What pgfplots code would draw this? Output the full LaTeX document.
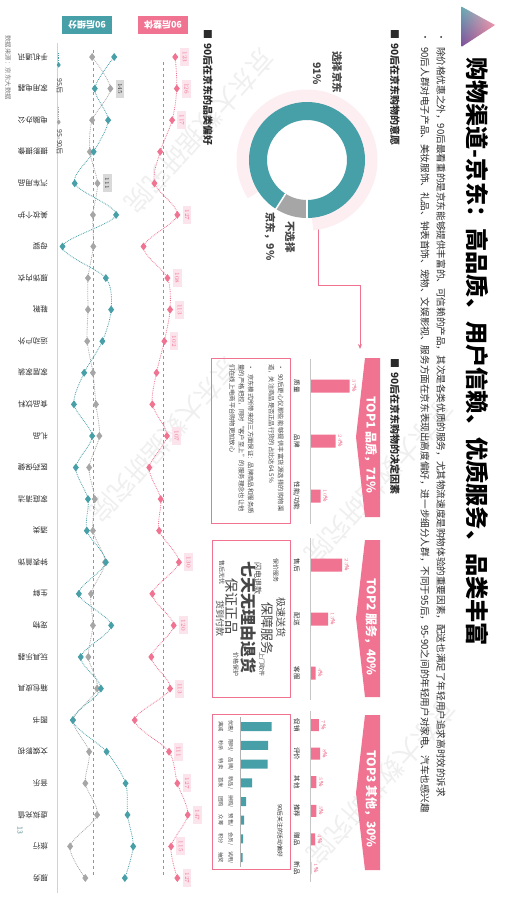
\documentclass[border=0pt]{standalone}
\usepackage{pgfplots}
\pgfplotsset{compat=1.18}
\usepackage{pgfplotstable}
\usepackage{fontspec}
\setmainfont{Noto Sans CJK SC}
\usetikzlibrary{arrows.meta,shadings}
\XeTeXlinebreaklocale "zh"
\XeTeXlinebreakskip=0pt plus 1pt minus 0.1pt
\definecolor{jteal}{HTML}{479FA8}
\definecolor{jpink}{HTML}{F07391}
\definecolor{jpale}{HTML}{FDEEF2}
\definecolor{jlab}{HTML}{FCE4EC}
\definecolor{jgray}{HTML}{A6A6A6}
\definecolor{jdark}{HTML}{2B2B2B}
\definecolor{jtext}{HTML}{474747}
\definecolor{jpurple}{HTML}{7E4E9B}
\newcommand\F[1]{\fontsize{#1}{#1}\selectfont}
\newcommand\catname[1]{\ifcase#1 手机通讯\or 家用电器\or 电脑办公\or 摄影摄像\or 汽车用品\or 美妆个护\or 母婴\or 服饰内衣\or 鞋靴\or 运动户外\or 家居家装\or 食品饮料\or 礼品\or 医药保健\or 家庭清洁\or 酒类\or 钟表首饰\or 生鲜\or 宠物\or 玩具乐器\or 箱包皮具\or 图书\or 文娱影视\or 音乐\or 虚拟充值\or 旅行\or 服务\fi}
\newcommand\actname[1]{\ifcase#1 优惠/\\满减\or 限时/\\秒杀\or 品牌/\\特卖\or 新品/\\首发\or 拼购/\\团购\or 预售/\\众筹\or 会员/\\积分\or 试用/\\抽奖\fi}
\tikzset{catlab/.style={rotate=-90, anchor=north, font=\F{6.5}, text=jdark, inner sep=0pt}}

\pgfplotstableread{
idx pink teal gray
0 123 155 97
1 126 104 145
2 117 139 97
3 94 101 91
4 83 51 111
5 127 160 99
6 62 19 100
7 108 133 86
8 113 147 86
9 102 124 84
10 87 76 99
11 79 49 107
12 107 97 116
13 73 54 89
14 95 86 104
15 92 83 99
16 130 133 131
17 79 62 94
18 120 147 99
19 77 67 87
20 113 120 110
21 45 46 47
22 111 135 89
23 127 185 79
24 147 190 110
25 115 205 39
26 127 183 79
}\prefdata

\pgfplotstableread{
idx pink
0 123
1 126
2 117
5 127
7 108
8 113
9 102
12 107
16 130
18 120
20 113
22 111
23 127
24 147
25 115
26 127
}\pinklab

\begin{document}
\begin{tikzpicture}
\begin{scope}[x=1pt,y=-1pt]
\fill[white] (0,0) rectangle (506,899);
\useasboundingbox (0,0) rectangle (506,899);

% watermarks
\foreach \cx/\cy in {200/131,380/482,165/440,382/782}
  \node[rotate=-131.6, text=gray, opacity=0.12, font=\F{26}] at (\cx,\cy) {京东大数据研究院};

% logo
\begin{scope}
\clip (461.7,6.7) -- (461.7,46.7) -- (495,25) -- cycle;
\shade[upper left=jteal!85, upper right=jpink!60, lower left=jpurple, lower right=jpink] (461,6) rectangle (496,47);
\end{scope}

% title and summary
\node[rotate=-90, anchor=west, inner sep=0pt, font=\F{23.2}\bfseries, text=black] at (477,57) {购物渠道-京东：高品质、用户信赖、优质服务、品类丰富};
\fill[jdark] (441,37) circle (1pt);
\fill[jdark] (425,37) circle (1pt);
\node[rotate=-90, anchor=west, inner sep=0pt, font=\F{9.6}, text=jdark] at (441,47) {除价格优惠之外，90后最看重的是京东能够提供丰富的、可信赖的产品，其次是各类优质的服务，尤其物流速度是购物体验的重要因素，配送也满足了年轻用户追求高时效的诉求};
\node[rotate=-90, anchor=west, inner sep=0pt, font=\F{9.6}, text=jdark] at (425,47) {90后人群对电子产品、美妆服饰、礼品、钟表首饰、宠物、文娱影视、服务方面在京东表现出高度偏好，进一步细分人群，不同于95后，95-90之间的年轻用户对家电、汽车也感兴趣};

% section headers
\node[rotate=-90, anchor=west, inner sep=0pt, font=\F{10}\bfseries, text=jdark] at (395,29) {■\hspace{4pt}90后在京东购物的意愿};
\node[rotate=-90, anchor=west, inner sep=0pt, font=\F{10}\bfseries, text=jdark] at (208,29) {■\hspace{4pt}90后在京东的品类偏好};
\node[rotate=-90, anchor=west, inner sep=0pt, font=\F{10}\bfseries, text=jdark] at (395,358) {■\hspace{4pt}90后在京东购物的决定因素};

\node[rotate=-90, anchor=west, inner sep=0pt, font=\F{10.5}\bfseries, text=jtext] at (337,51) {选择京东};
\node[rotate=-90, anchor=west, inner sep=0pt, font=\F{10.5}\bfseries, text=jtext] at (317,62) {91\%};
\node[rotate=-90, anchor=west, inner sep=0pt, font=\F{10.5}\bfseries, text=jtext] at (290,221) {不选择};
\node[rotate=-90, anchor=west, inner sep=0pt, font=\F{10.5}\bfseries, text=jtext] at (270,212) {京东，9\%};
\draw[jpink, line width=0.8pt, -{Stealth[length=5pt,width=4pt]}] (318,226) -- (318,285) -- (360,285) -- (360,349);

% banners
\fill[jpink] (365,358) -- (380,358) -- (380,517) -- (365,517) -- (356,437) -- cycle;
\fill[jpink] (365,540) -- (380,540) -- (380,697) -- (365,697) -- (356,618) -- cycle;
\fill[jpink] (365,715) -- (380,715) -- (380,870) -- (365,870) -- (356,793) -- cycle;
\node[rotate=-90, font=\F{12}\bfseries, text=white] at (371,445) {TOP1 品质，71\%};
\node[rotate=-90, font=\F{12}\bfseries, text=white] at (371,627) {TOP2 服务，40\%};
\node[rotate=-90, font=\F{12}\bfseries, text=white] at (371,799) {TOP3 其他，30\%};

% boxes
\draw[jpink, line width=0.8pt] (211.5,358.5) rectangle (290,523);
\draw[jpink, line width=0.8pt] (212,540) rectangle (290,697);
\draw[jpink, line width=0.8pt] (212.5,714) rectangle (290,869);

% box 1 text
\node[rotate=-90, anchor=north west, text width=150pt, inner sep=0pt, align=left, font=\fontsize{6.3}{9.3}\selectfont, text=jtext] at (284,364)
 {\hangindent=10pt\hangafter=1\noindent\makebox[10pt][l]{•}90后更心仪那些能够提供丰富货源选择的购物渠道，关注商品是否正品行货的占比达64.5\%};
\node[rotate=-90, anchor=north west, text width=150pt, inner sep=0pt, align=left, font=\fontsize{6.3}{9.3}\selectfont, text=jtext] at (254,364)
 {\hangindent=10pt\hangafter=1\noindent\makebox[10pt][l]{•}京东模式所带来的三方面保证：品牌商品和服务质量的严格把控，同时“客户至上”的服务理念也让他们在线上电商平台购物更加放心};

% box 2 word cloud
\node[rotate=-90, font=\F{10}, text=jtext] at (281,617) {极速送货};
\node[rotate=-90, font=\F{13}, text=jtext] at (267,628) {保障服务};
\node[rotate=-90, font=\F{8}, text=jtext] at (258,578) {闪电退款};
\node[rotate=-90, font=\F{16}\bfseries, text=jtext] at (249,617) {七天无理由退货};
\node[rotate=-90, font=\F{14}, text=jtext] at (232,606) {保证正品};
\node[rotate=-90, font=\F{9}, text=jtext] at (220,618) {货到付款};
\node[rotate=-90, font=\F{6}, text=jtext] at (262,664) {上门取件};
\node[rotate=-90, font=\F{6}, text=jtext] at (236,664) {价格保护};
\node[rotate=-90, font=\F{6}, text=jtext] at (222,572) {售后无忧};
\node[rotate=-90, font=\F{6}, text=jtext] at (276,570) {保价服务};

\node[rotate=-90, anchor=west, inner sep=0pt, font=\F{5.8}, text=jdark] at (280,804) {90后关注的活动偏好};

% category preference chart decorations
\fill[jteal] (62,16) rectangle (112,34);
\node[rotate=180, text=white, font=\F{9}\bfseries] at (87,25) {90后细分};
\fill[jpink] (138,16) rectangle (188,34);
\node[rotate=180, text=white, font=\F{9}\bfseries] at (163,25) {90后整体};
\draw[gray!35, line width=0.8pt] (57,43) -- (57,893);
\node[rotate=-90, anchor=west, inner sep=0pt, font=\F{6.5}, text=gray] at (8,35) {数据来源：京东大数据};
\node[rotate=-90, font=\F{7}, text=jteal!60!gray] at (20,830) {13};
\end{scope}

% donut
\begin{axis}[at={(307pt,-160pt)}, anchor=center, scale only axis, width=140pt, height=140pt,
  xmin=-70, xmax=70, ymin=-70, ymax=70, hide axis, clip=false]
\draw[jpale, line width=13pt] ([shift={(-85:64pt)}]axis cs:0,0) arc[start angle=-85, end angle=213, radius=64pt];
\draw[jteal, line width=18pt] ([shift={(-90:49pt)}]axis cs:0,0) arc[start angle=-90, end angle=237.6, radius=49pt];
\draw[jgray, line width=18pt] ([shift={(237.6:49pt)}]axis cs:0,0) arc[start angle=237.6, end angle=270, radius=49pt];
\draw[white, line width=1.5pt] ([shift={(237.6:38pt)}]axis cs:0,0) -- ([shift={(237.6:60pt)}]axis cs:0,0);
\draw[white, line width=1.5pt] ([shift={(-90:38pt)}]axis cs:0,0) -- ([shift={(-90:60pt)}]axis cs:0,0);
\end{axis}

% decision factor bars
\pgfplotsset{factor/.style={scale only axis, anchor=north west, y dir=reverse, hide axis, clip=false},
  valbar/.style={xbar, draw=none, bar width=#1, nodes near coords={\pgfmathprintnumber{\pgfplotspointmeta}\%}, point meta=x,
  every node near coord/.append style={xshift=1.5pt, rotate=-90, anchor=south, font=\F{5.5}\bfseries, text=jpink, inner sep=1pt}}}
\begin{axis}[factor, at={(310pt,-358.5pt)}, width=42.8pt, height=165pt, xmin=0, xmax=40, ymin=-0.5, ymax=2.5]
\addplot[valbar=13pt, fill=jpink] coordinates {(37,0) (24,1) (10,2)};
\node[catlab] at (axis cs:-9.35,0) {质量};
\node[catlab] at (axis cs:-9.35,1) {品牌};
\node[catlab] at (axis cs:-9.35,2) {性能/功能};
\draw[gray!45, line width=0.8pt] (axis cs:0,-0.5) -- (axis cs:0,2.5);
\end{axis}
\begin{axis}[factor, at={(310pt,-538pt)}, width=42pt, height=162pt, xmin=0, xmax=30, ymin=-0.5, ymax=2.5]
\addplot[valbar=13pt, fill=jpink] coordinates {(23,0) (13,1) (4,2)};
\node[catlab] at (axis cs:-7.1,0) {售后};
\node[catlab] at (axis cs:-7.1,1) {配送};
\node[catlab] at (axis cs:-7.1,2) {客服};
\draw[gray!45, line width=0.8pt] (axis cs:0,-0.5) -- (axis cs:0,2.5);
\end{axis}
\begin{axis}[factor, at={(310pt,-710.7pt)}, width=38.1pt, height=171.6pt, xmin=0, xmax=30, ymin=-0.5, ymax=5.5]
\addplot[valbar=12pt, fill=jpink] coordinates {(7,0) (8,1) (5,2) (5,3) (4,4) (1,5)};
\node[catlab] at (axis cs:-7.9,0) {促销};
\node[catlab] at (axis cs:-7.9,1) {评价};
\node[catlab] at (axis cs:-7.9,2) {其他};
\node[catlab] at (axis cs:-7.9,3) {推荐};
\node[catlab] at (axis cs:-7.9,4) {赠品};
\node[catlab] at (axis cs:-7.9,5) {新品};
\draw[gray!45, line width=0.8pt] (axis cs:0,-0.5) -- (axis cs:0,5.5);
\end{axis}

% box 3 activity bars
\begin{axis}[factor, at={(240pt,-717.3pt)}, width=40pt, height=149.7pt,
  xmin=0, xmax=40, ymin=-0.5, ymax=7.5]
\addplot[xbar, bar width=9pt, fill=jteal, draw=none] coordinates {(31.7,0) (28,1) (27.7,2) (12,3) (6,4) (4,5) (3,6) (2.7,7)};
\pgfplotsinvokeforeach{0,...,7}{
  \node[catlab, align=center, font=\fontsize{5.3}{10}\selectfont, text=jtext] at (axis cs:-6.5,#1) {\actname{#1}};
}
\draw[gray!60, line width=0.8pt] (axis cs:0,-0.5) -- (axis cs:0,7.5);
\end{axis}

% category preference: 95 / 95-90
\begin{axis}[at={(55.3pt,-57pt)}, anchor=north west, scale only axis, width=83.6pt, height=821pt,
  xmin=0, xmax=220, ymin=0, ymax=26, y dir=reverse, hide axis, clip=false]
\addplot[jgray!90!black, dashed, line width=0.6pt, mark=none] coordinates {(100,-0.22) (100,25.97)};
\addplot[jgray, densely dotted, line width=0.8pt, smooth, mark=diamond*, mark size=3.3pt,
  mark options={solid, fill=jgray, draw=jgray}] table[x=gray, y=idx]{\prefdata};
\addplot[jteal, densely dotted, line width=0.8pt, smooth, mark=diamond*, mark size=3.3pt,
  mark options={solid, fill=jteal, draw=jteal}] table[x=teal, y=idx]{\prefdata};
\addplot[draw=none, mark=none, nodes near coords, point meta=x,
  every node near coord/.append style={xshift=5pt, rotate=-90, anchor=south, fill=gray!30, text=jdark,
  font=\F{6.5}, inner xsep=3.5pt, inner ysep=2.5pt}] coordinates {(145,1) (111,4)};
% category names
\pgfplotsinvokeforeach{0,...,26}{
  \node[rotate=180, anchor=west, font=\F{7.5}, text=jdark, inner sep=0pt] at (axis cs:-19.2,#1) {\catname{#1}};
}
% legend
\addplot[jteal, densely dotted, line width=0.8pt, mark=diamond*, mark indices={2}, mark size=2pt,
  mark options={solid, fill=jteal}] coordinates {(9,-0.13) (9,0.25)};
\addplot[jgray, densely dotted, line width=0.8pt, mark=diamond*, mark indices={2}, mark size=2pt,
  mark options={solid, fill=jgray}] coordinates {(9,1.58) (9,2.06)};
\node[rotate=-90, anchor=west, inner sep=0pt, font=\F{7}, text=jtext] at (axis cs:12,0.68) {95后};
\node[rotate=-90, anchor=west, inner sep=0pt, font=\F{7}, text=jtext] at (axis cs:12,2.3) {95-90后};
\end{axis}

% category preference: overall
\begin{axis}[at={(132.1pt,-57pt)}, anchor=north west, scale only axis, width=62.4pt, height=821pt,
  xmin=40, xmax=160, ymin=0, ymax=26, y dir=reverse, hide axis, clip=false]
\addplot[jgray!90!black, dashed, line width=0.6pt, mark=none] coordinates {(100,0.16) (100,25.9)};
\addplot[jpink, densely dotted, line width=0.8pt, smooth, mark=diamond*, mark size=3.3pt,
  mark options={solid, fill=jpink, draw=jpink}] table[x=pink, y=idx]{\prefdata};
\addplot[draw=none, mark=none, nodes near coords, point meta=x,
  every node near coord/.append style={xshift=5pt, rotate=-90, anchor=south, fill=jlab, text=jpink,
  font=\F{6.5}, inner xsep=3.5pt, inner ysep=2.5pt}] table[x=pink, y=idx]{\pinklab};
\end{axis}
\end{tikzpicture}
\end{document}
